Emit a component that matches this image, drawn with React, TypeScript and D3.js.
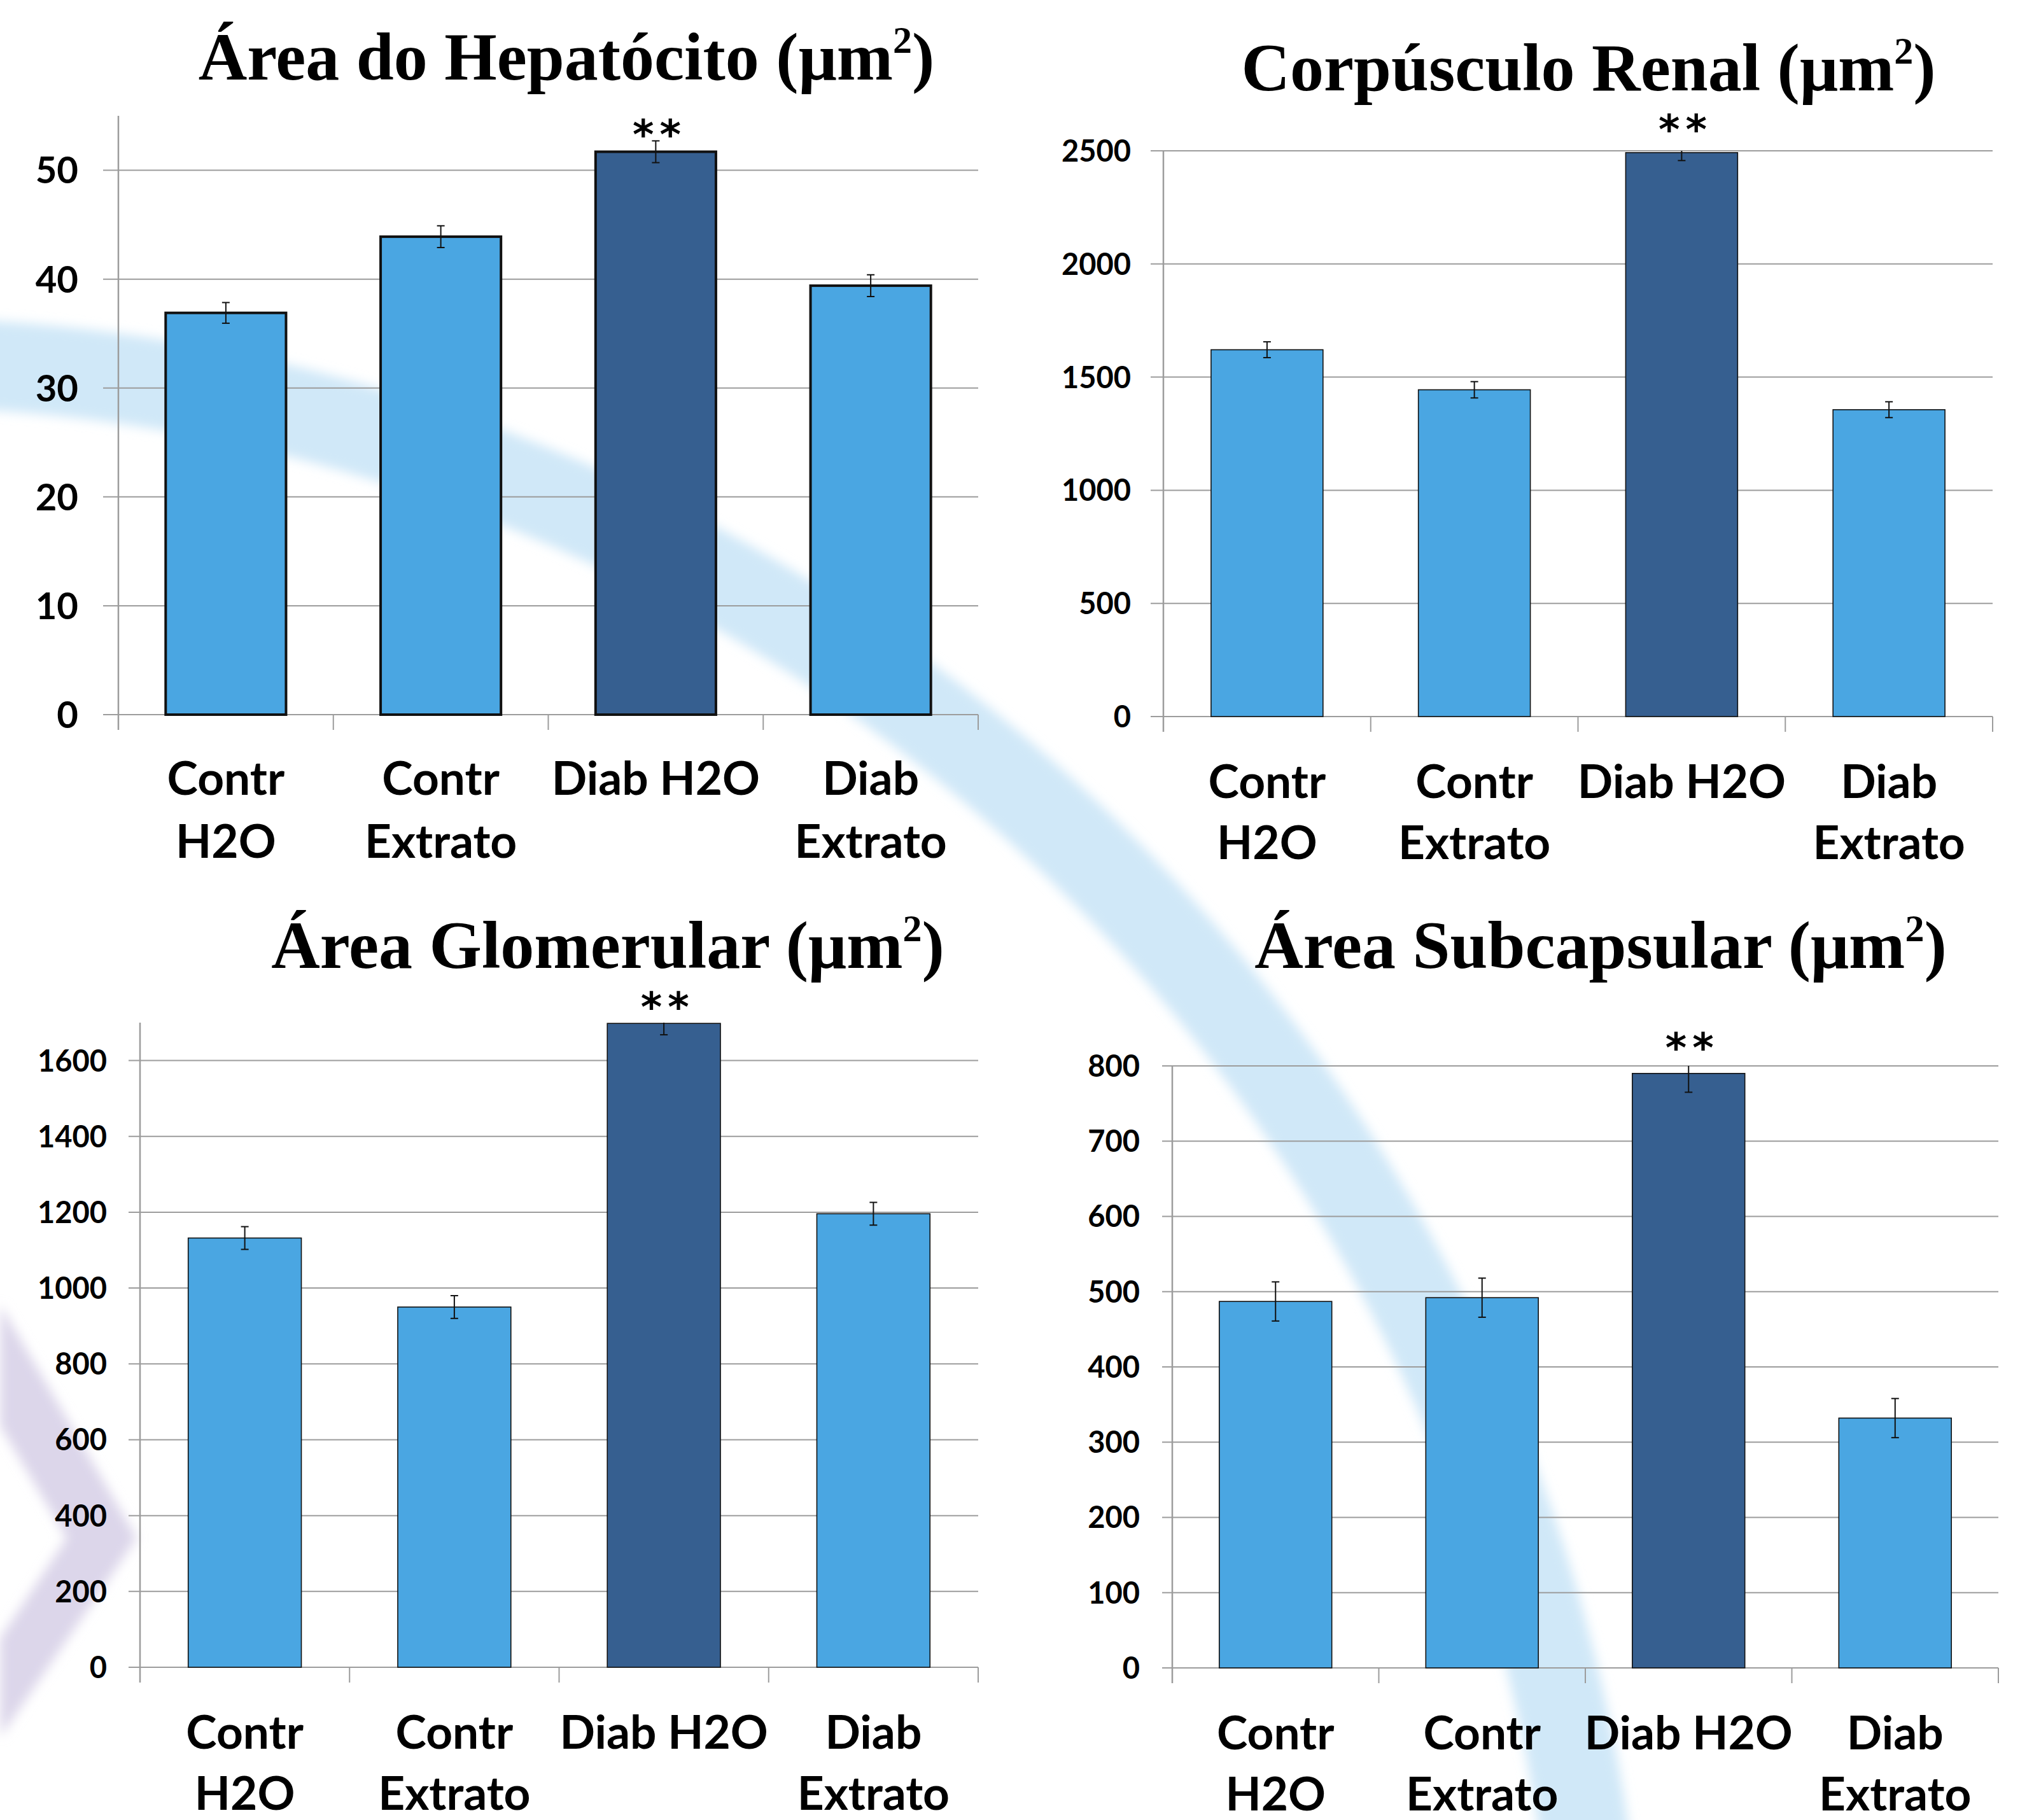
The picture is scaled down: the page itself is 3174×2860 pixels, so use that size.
import React from "react";
import * as d3 from "d3";

// groups on the x axis (line-broken like the original)
const categories = [["Contr", "H2O"], ["Contr", "Extrato"], ["Diab H2O"], ["Diab", "Extrato"]];
const highlightIndex = 2;

const hepatocitoValues = [36.9, 43.9, 51.7, 39.4];
const hepatocitoErrors = [0.95, 1.0, 1.0, 1.0];
const hepatocitoTicks = [0, 10, 20, 30, 40, 50];

const corpusculoValues = [1621, 1444, 2492, 1356];
const corpusculoErrors = [35, 36, 35, 35];
const corpusculoTicks = [0, 500, 1000, 1500, 2000, 2500];

const glomerularValues = [1132, 950, 1698, 1196];
const glomerularErrors = [30, 30, 30, 30];
const glomerularTicks = [0, 200, 400, 600, 800, 1000, 1200, 1400, 1600];

const subcapsularValues = [487, 492, 790, 332];
const subcapsularErrors = [26, 26, 25, 26];
const subcapsularTicks = [0, 100, 200, 300, 400, 500, 600, 700, 800];

const W = 3174;
const H = 2860;
const LIGHT = "#4aa6e2";
const DARK = "#365f90";
const GRID = "#9c9c9c";
const SANS = "Lato, 'Open Sans', sans-serif";
const SERIF = "'Liberation Serif', 'Times New Roman', serif";

const panels = [
  {
    title: "Área do Hepatócito", values: hepatocitoValues, errors: hepatocitoErrors, ticks: hepatocitoTicks,
    max: 55, left: 186, right: 1537, top: 182, base: 1123, titleX: 890, titleY: 125,
    tickFont: 58, tickLen: 24, labelRight: 123, barStroke: 4, inner: 0.44, starLift: 24, lab: [126, 225],
  },
  {
    title: "Corpúsculo Renal", values: corpusculoValues, errors: corpusculoErrors, ticks: corpusculoTicks,
    max: 2500, left: 1828, right: 3131, top: 237, base: 1126, titleX: 2496, titleY: 142,
    tickFont: 47, tickLen: 20, labelRight: 1777, barStroke: 1.6, inner: 0.46, starLift: 38, lab: [128, 224],
  },
  {
    title: "Área Glomerular", values: glomerularValues, errors: glomerularErrors, ticks: glomerularTicks,
    max: 1700, left: 220, right: 1537, top: 1607, base: 2620, titleX: 955, titleY: 1521,
    tickFont: 47, tickLen: 18, labelRight: 168, barStroke: 1.6, inner: 0.46, starLift: 22, lab: [128, 224],
  },
  {
    title: "Área Subcapsular", values: subcapsularValues, errors: subcapsularErrors, ticks: subcapsularTicks,
    max: 800, left: 1842, right: 3140, top: 1675, base: 2621, titleX: 2515, titleY: 1521,
    tickFont: 47, tickLen: 16, labelRight: 1791, barStroke: 1.6, inner: 0.455, starLift: 25, lab: [128, 224],
  },
];

function Panel({ p }) {
  const x = d3.scaleBand().domain(categories.map((c, i) => String(i)))
    .range([p.left, p.right]).paddingInner(p.inner).paddingOuter(p.inner / 2);
  const y = d3.scaleLinear().domain([0, p.max]).range([p.base, p.top]);
  const step = x.step();
  const bounds = d3.range(categories.length + 1).map(i => p.left + i * step);

  return (
    <g>
      <text x={p.titleX} y={p.titleY} textAnchor="middle" fontFamily={SERIF} fontWeight="bold" fontSize={106}>
        {p.title + " (μm"}
        <tspan fontSize={60} dy={-42}>2</tspan>
        <tspan dy={42}>)</tspan>
      </text>
      {p.ticks.map(t => (
        <g key={t}>
          <line x1={p.left - p.tickLen} x2={p.right} y1={y(t)} y2={y(t)} stroke={GRID} strokeWidth={2} />
          <text x={p.labelRight} y={y(t)} dy={p.tickFont * 0.36} textAnchor="end"
            fontFamily={SANS} fontWeight="bold" fontSize={p.tickFont}>{t}</text>
        </g>
      ))}
      <line x1={p.left} x2={p.left} y1={p.top} y2={p.base + 24} stroke={GRID} strokeWidth={2.5} />
      {bounds.map((b, i) => (
        <line key={i} x1={b} x2={b} y1={p.base} y2={p.base + 24} stroke={GRID} strokeWidth={2} />
      ))}
      {p.values.map((v, i) => {
        const bx = x(String(i));
        const cx = bx + x.bandwidth() / 2;
        const hi = Math.min(v + p.errors[i], p.max);
        const clipped = v + p.errors[i] > p.max;
        return (
          <g key={i}>
            <rect x={bx} y={y(v)} width={x.bandwidth()} height={p.base - y(v)}
              fill={i === highlightIndex ? DARK : LIGHT} stroke="#111" strokeWidth={p.barStroke} />
            <line x1={cx} x2={cx} y1={y(v - p.errors[i])} y2={y(hi)} stroke="#111" strokeWidth={2} />
            <line x1={cx - 6} x2={cx + 6} y1={y(v - p.errors[i])} y2={y(v - p.errors[i])} stroke="#111" strokeWidth={2} />
            {!clipped && <line x1={cx - 6} x2={cx + 6} y1={y(hi)} y2={y(hi)} stroke="#111" strokeWidth={2} />}
            {i === highlightIndex && (
              <text x={cx + 6} y={y(v + p.errors[i]) - p.starLift + 37} textAnchor="middle"
                fontFamily="'DejaVu Sans', sans-serif" fontWeight="bold" fontSize={64} letterSpacing={9}>**</text>
            )}
          </g>
        );
      })}
      {categories.map((c, i) => (
        <text key={i} x={x(String(i)) + x.bandwidth() / 2} textAnchor="middle"
          fontFamily={SANS} fontWeight="bold" fontSize={73}>
          {c.map((line, j) => (
            <tspan key={j} x={x(String(i)) + x.bandwidth() / 2} y={p.base + p.lab[j]}>{line}</tspan>
          ))}
        </text>
      ))}
    </g>
  );
}

// background watermark: big pale arc + lavender chevron
const arcCx = -184, arcCy = 3271, arcR = 2702;

export default function App() {
  const start = [-60, arcCy - Math.sqrt(arcR * arcR - (-60 - arcCx) ** 2)];
  const endY = 2960;
  const end = [arcCx + Math.sqrt(arcR * arcR - (endY - arcCy) ** 2), endY];
  return (
    <svg width={W} height={H} style={{ position: "absolute", left: 0, top: 0 }}>
      <defs>
        <filter id="soft" x="-20%" y="-20%" width="140%" height="140%">
          <feGaussianBlur stdDeviation="9" />
        </filter>
      </defs>
      <rect width={W} height={H} fill="#fff" />
      <path d={`M${start[0]},${start[1]} A${arcR},${arcR} 0 0 1 ${end[0]},${end[1]}`}
        fill="none" stroke="#d0e8f8" strokeWidth={140} filter="url(#soft)" />
      <path d="M0,2050 L215,2417 L0,2730 L0,2575 L105,2417 L0,2240 Z" fill="#dcd6ea" filter="url(#soft)" />
      {panels.map((p, i) => <Panel key={i} p={p} />)}
    </svg>
  );
}
